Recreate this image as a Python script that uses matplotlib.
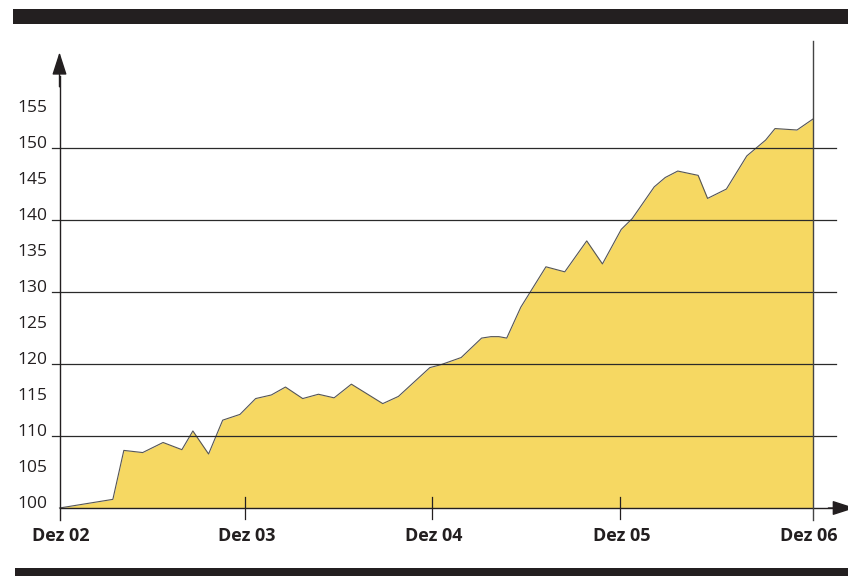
import numpy as np
import matplotlib
matplotlib.use("Agg")
import matplotlib.pyplot as plt

# months after Dez 02 and index value (Dez 02 = 100)
months = [0, 3.4, 4.1, 5.3, 6.6, 7.8, 8.5, 9.5, 10.4, 11.5,
          12.5, 13.5, 14.4, 15.5, 16.5, 17.5, 18.6, 20.6, 21.6, 22.6,
          23.6, 24.3, 25.6, 26.9, 27.5, 28.0, 28.5, 29.4, 30.0, 31.0,
          32.2, 33.6, 34.6, 35.8, 36.5, 37.9, 38.6, 39.4, 40.7, 41.3,
          42.5, 43.8, 45.0, 45.6, 47.0, 48.0]
index = [100, 101.2, 108.0, 107.7, 109.1, 108.1, 110.7, 107.5, 112.2, 113.0,
         115.2, 115.7, 116.8, 115.2, 115.8, 115.3, 117.2, 114.5, 115.5, 117.5,
         119.5, 119.9, 120.9, 123.6, 123.8, 123.8, 123.6, 127.9, 130.0, 133.5,
         132.8, 137.1, 133.9, 138.7, 140.2, 144.6, 145.9, 146.8, 146.2, 143.0,
         144.3, 148.9, 151.1, 152.7, 152.5, 154.0]

year_pos = [0, 11.85, 23.75, 35.75, 48]
year_labels = ["Dez 02", "Dez 03", "Dez 04", "Dez 05", "Dez 06"]
grid_vals = [110, 120, 130, 140, 150]
ytick_vals = [100, 105, 110, 115, 120, 125, 130, 135, 140, 145, 150, 155]

plt.rcParams['font.family'] = ['Open Sans', 'DejaVu Sans']

W, H = 848, 576
fig = plt.figure(figsize=(W / 100, H / 100), dpi=100)
ax = fig.add_axes([0, 0, 1, 1])
ax.axis('off')

# pixel mapping: Dez 02 at x=59.5, Dez 06 at x=812.7; 100 at y=508, 7.2 px per unit
mpp = 48 / (812.7 - 59.5)
ax.set_xlim(-59.5 * mpp, 48 + (W - 812.7) * mpp)
ax.set_ylim(100 - (H - 508) / 7.2, 100 + 508 / 7.2)

dark = "#231f20"

# filled area
ax.fill_between(months, 100, index, color="#f6d862", lw=0, zorder=1)
ax.plot(months, index, color="#555555", lw=0.8, zorder=2)

# gridlines
for g in grid_vals:
    ax.plot([-0.48, 49.5], [g, g], color="#2a2a2a", lw=0.9, zorder=3)

# axes with arrows
ax.plot([0, 0], [98.4, 160], color=dark, lw=1.0, zorder=4)
ax.annotate("", xy=(0, 163.3), xytext=(0, 158.5),
            arrowprops=dict(arrowstyle="-|>,head_length=1.4,head_width=0.45",
                            color=dark, lw=1.0, shrinkA=0, shrinkB=0), zorder=4)
ax.plot([0, 50], [100, 100], color=dark, lw=1.0, zorder=4)
ax.annotate("", xy=(50.7, 100), xytext=(49.0, 100),
            arrowprops=dict(arrowstyle="-|>,head_length=1.4,head_width=0.45",
                            color=dark, lw=1.0, shrinkA=0, shrinkB=0),
            annotation_clip=False, zorder=4)

# year ticks and right edge line
for x in year_pos[1:-1]:
    ax.plot([x, x], [98.5, 101.5], color=dark, lw=0.9, zorder=4)
ax.plot([48, 48], [98.4, 164.9], color="#444444", lw=1.0, zorder=4)

# labels
for v in ytick_vals:
    ax.text(-0.77, v + 0.5, str(v), ha="right", va="center", fontsize=12.5, color=dark)
for x, lab in zip(year_pos, year_labels):
    ax.text(x - 0.25 if x == 48 else x + 0.1, 96.1, lab, ha="center", va="center",
            fontsize=13, fontweight="bold", color=dark)

# dark bars top and bottom
ax.add_patch(plt.Rectangle((13 / W, 1 - 24 / H), 1, 15 / H, transform=ax.transAxes,
                           color=dark, lw=0))
ax.add_patch(plt.Rectangle((15 / W, 0), 1, 8 / H, transform=ax.transAxes,
                           color=dark, lw=0))

fig.savefig("out.png", dpi=100)
